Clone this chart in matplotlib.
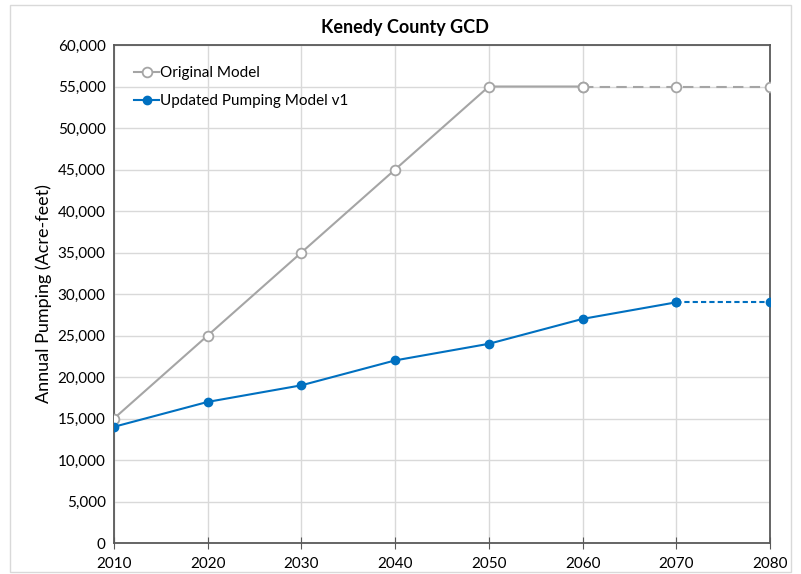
import matplotlib.pyplot as plt
from matplotlib.ticker import FuncFormatter, MultipleLocator
from matplotlib.patches import Rectangle

years = [2010, 2020, 2030, 2040, 2050, 2060, 2070, 2080]
original = [15000, 25000, 35000, 45000, 55000, 55000, 55000, 55000]
updated = [14000, 17000, 19000, 22000, 24000, 27000, 29000, 29000]

# index where each series turns into a dashed projection
orig_split = 5
upd_split = 6

grey = '#A5A5A5'
blue = '#0070C0'

plt.rcParams['font.family'] = ['Lato', 'DejaVu Sans']

fig = plt.figure(figsize=(8.01, 5.74), dpi=100)
ax = fig.add_axes([0.1423, 0.054, 0.819, 0.8676])

# outer chart border
fig.patches.append(Rectangle((0.012, 0.004), 0.976, 0.988, transform=fig.transFigure,
                             fill=False, edgecolor='#D9D9D9', linewidth=1))

# original model
ax.plot(years[:orig_split + 1], original[:orig_split + 1], color=grey, lw=1.5,
        marker='o', ms=7, mfc='white', mec=grey, mew=1.3, label='Original Model', zorder=3)
ax.plot(years[orig_split:], original[orig_split:], color=grey, lw=1.5, ls=(0, (5, 3)),
        marker='o', ms=7, mfc='white', mec=grey, mew=1.3, zorder=3)

# updated model
ax.plot(years[:upd_split + 1], updated[:upd_split + 1], color=blue, lw=1.5,
        marker='o', ms=6, mfc=blue, mec=blue, label='Updated Pumping Model v1', zorder=3)
ax.plot(years[upd_split:], updated[upd_split:], color=blue, lw=1.5, ls=(0, (2.5, 1.5)),
        marker='o', ms=6, mfc=blue, mec=blue, zorder=3)

ax.set_xlim(2010, 2080)
ax.set_ylim(0, 60000)
ax.xaxis.set_major_locator(MultipleLocator(10))
ax.yaxis.set_major_locator(MultipleLocator(5000))
ax.yaxis.set_major_formatter(FuncFormatter(lambda v, p: f'{int(v):,}'))

ax.grid(True, color='#D9D9D9', lw=1)
ax.set_axisbelow(True)
for s in ax.spines.values():
    s.set_color('#595959')
    s.set_linewidth(1.3)

ax.tick_params(axis='x', direction='inout', length=8, color='#595959', labelsize=11, pad=6)
ax.tick_params(axis='y', length=0, labelsize=11, pad=6)

fig.text(0.505, 1 - 28 / 574, 'Kenedy County GCD', fontsize=13, fontweight='bold',
         ha='center', va='center')
ax.set_ylabel('Annual Pumping (Acre-feet)', fontsize=13, labelpad=4)

ax.legend(loc='upper left', bbox_to_anchor=(0.01, 0.985), frameon=False, fontsize=11,
          handlelength=1.6, handletextpad=0.1, labelspacing=0.9)

fig.savefig('out.png', dpi=100)
